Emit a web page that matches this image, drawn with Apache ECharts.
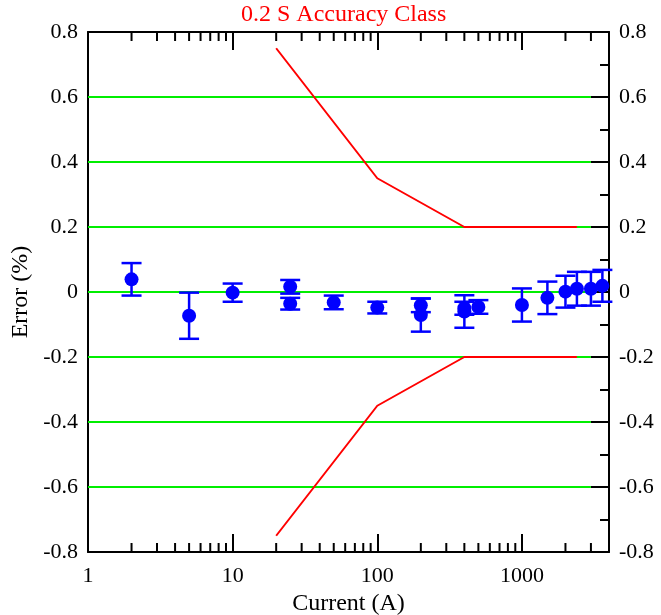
<!DOCTYPE html>
<html>
<head>
<meta charset="utf-8">
<script src="https://cdn.jsdelivr.net/npm/echarts@6/dist/echarts.min.js"></script>
<style>
  html, body { margin: 0; padding: 0; background: #fff; }
  #chart { width: 661px; height: 615px; }
</style>
</head>
<body>
<div id="chart"></div>
<script>
// ---- data ----
const titleText = '0.2 S Accuracy Class';
const xName = 'Current (A)';
const yName = 'Error (%)';

const currents    = [2, 5, 10, 25, 25, 50, 100, 200, 200, 400, 400, 500, 1000, 1500, 2000, 2400, 3000, 3600];
const errors      = [0.039, -0.073, -0.002, 0.016, -0.036, -0.032, -0.048, -0.041, -0.071, -0.050, -0.060, -0.046, -0.040, -0.018, 0.001, 0.010, 0.010, 0.019];
const uncertainty = [0.050, 0.071, 0.028, 0.021, 0.018, 0.021, 0.018, 0.021, 0.051, 0.020, 0.050, 0.021, 0.051, 0.050, 0.049, 0.052, 0.052, 0.049];

const limitX     = [20, 100, 400, 2400];
const limitUpper = [0.75, 0.35, 0.2, 0.2];
const limitLower = [-0.75, -0.35, -0.2, -0.2];

const gridValues = [-0.6, -0.4, -0.2, 0, 0.2, 0.4, 0.6];
const gridSpan   = [1, 3000];

const xMin = 1, xMax = 4000;
const yMin = -0.8, yMax = 0.8, yStep = 0.2;
const xMinorTicks = [2,3,4,5,6,7,8,9, 20,30,40,50,60,70,80,90, 200,300,400,500,600,700,800,900, 2000,3000];

// ---- chart ----
const FONT = 'Liberation Serif';
const chart = echarts.init(document.getElementById('chart'), null, { renderer: 'canvas' });

function isPow10(v) {
  const l = Math.log10(v);
  return Math.abs(l - Math.round(l)) < 1e-6;
}

const axisLineStyle = { color: '#000', width: 2 };

const xAxisBase = {
  type: 'log', logBase: 10, min: xMin, max: xMax,
  axisLine: { show: true, onZero: false, lineStyle: axisLineStyle },
  axisTick: { show: true, inside: true, length: 18, lineStyle: { color: '#000', width: 2 } },
  splitLine: { show: false },
  minorTick: { show: false }
};

const yAxisBase = {
  type: 'value', min: yMin, max: yMax, interval: yStep,
  axisLine: { show: true, onZero: false, lineStyle: axisLineStyle },
  axisTick: { show: true, inside: true, length: 18, lineStyle: { color: '#000', width: 2 } },
  minorTick: { show: true, splitNumber: 2, length: 9, lineStyle: { color: '#000', width: 2 } },
  splitLine: { show: false },
  axisLabel: {
    fontFamily: FONT, fontSize: 22, color: '#000', margin: 10,
    formatter: v => String(Math.round(v * 10) / 10)
  }
};

const errData = currents.map((c, i) => [c, errors[i] - uncertainty[i], errors[i] + uncertainty[i]]);
const ptData = currents.map((c, i) => [c, errors[i]]);

chart.setOption({
  animation: false,
  backgroundColor: '#fff',
  title: {
    text: titleText, left: 236, top: -2,
    textStyle: { fontFamily: FONT, fontSize: 24, fontWeight: 'normal', color: '#ff0000' }
  },
  grid: { left: 88, right: 52, top: 32, bottom: 63, containLabel: false, outerBoundsMode: 'none' },
  xAxis: [
    Object.assign({}, xAxisBase, {
      position: 'bottom',
      name: xName, nameLocation: 'middle', nameGap: 32,
      nameTextStyle: { fontFamily: FONT, fontSize: 24, color: '#000' },
      axisLabel: {
        fontFamily: FONT, fontSize: 22, color: '#000', margin: 13,
        formatter: v => isPow10(v) ? String(Math.round(v)) : '',
        showMaxLabel: false
      }
    }),
    Object.assign({}, xAxisBase, { position: 'top', axisLabel: { show: false } })
  ],
  yAxis: [
    Object.assign({}, yAxisBase, {
      position: 'left',
      axisTick: { show: false }, minorTick: { show: false },
      name: yName, nameLocation: 'middle', nameGap: 53, nameRotate: 90,
      nameTextStyle: { fontFamily: FONT, fontSize: 24, color: '#000' }
    }),
    Object.assign({}, yAxisBase, { position: 'right' })
  ],
  series: [
    {
      name: 'grid', type: 'custom', xAxisIndex: 0, yAxisIndex: 0, z: 1, silent: true,
      data: gridValues.map(v => [gridSpan[0], gridSpan[1], v]),
      encode: { x: [0, 1], y: 2 },
      renderItem: (params, api) => {
        const a = api.coord([api.value(0), api.value(2)]);
        const b = api.coord([api.value(1), api.value(2)]);
        return { type: 'line', shape: { x1: a[0], y1: a[1], x2: b[0], y2: b[1] },
                 style: { stroke: '#00ee00', lineWidth: 2 } };
      }
    },
    {
      name: 'xminor', type: 'custom', xAxisIndex: 0, yAxisIndex: 0, z: 3, silent: true,
      data: xMinorTicks.map(v => [v, 0]),
      encode: { x: 0, y: 1 },
      renderItem: (params, api) => {
        const b = api.coord([api.value(0), yMin]);
        const t = api.coord([api.value(0), yMax]);
        const st = { stroke: '#000', lineWidth: 2 };
        return { type: 'group', children: [
          { type: 'line', shape: { x1: b[0], y1: b[1], x2: b[0], y2: b[1] - 9 }, style: st },
          { type: 'line', shape: { x1: t[0], y1: t[1], x2: t[0], y2: t[1] + 9 }, style: st }
        ] };
      }
    },
    {
      name: 'upper limit', type: 'line', xAxisIndex: 0, yAxisIndex: 0, z: 4,
      data: limitX.map((x, i) => [x, limitUpper[i]]),
      symbol: 'none', lineStyle: { color: '#ff0000', width: 2 }
    },
    {
      name: 'lower limit', type: 'line', xAxisIndex: 0, yAxisIndex: 0, z: 4,
      data: limitX.map((x, i) => [x, limitLower[i]]),
      symbol: 'none', lineStyle: { color: '#ff0000', width: 2 }
    },
    {
      name: 'error bars', type: 'custom', xAxisIndex: 0, yAxisIndex: 0, z: 5,
      data: errData,
      encode: { x: 0, y: [1, 2] },
      renderItem: (params, api) => {
        const lo = api.coord([api.value(0), api.value(1)]);
        const hi = api.coord([api.value(0), api.value(2)]);
        const hw = 10;
        const st = { stroke: '#0000ff', lineWidth: 2.5 };
        return { type: 'group', children: [
          { type: 'line', shape: { x1: lo[0], y1: lo[1], x2: hi[0], y2: hi[1] }, style: st },
          { type: 'line', shape: { x1: lo[0] - hw, y1: lo[1], x2: lo[0] + hw, y2: lo[1] }, style: st },
          { type: 'line', shape: { x1: hi[0] - hw, y1: hi[1], x2: hi[0] + hw, y2: hi[1] }, style: st }
        ] };
      }
    },
    {
      name: 'measured', type: 'scatter', xAxisIndex: 0, yAxisIndex: 0, z: 6,
      data: ptData, symbol: 'circle', symbolSize: 14,
      itemStyle: { color: '#0000ff', opacity: 1 }
    }
  ]
});
</script>
</body>
</html>
